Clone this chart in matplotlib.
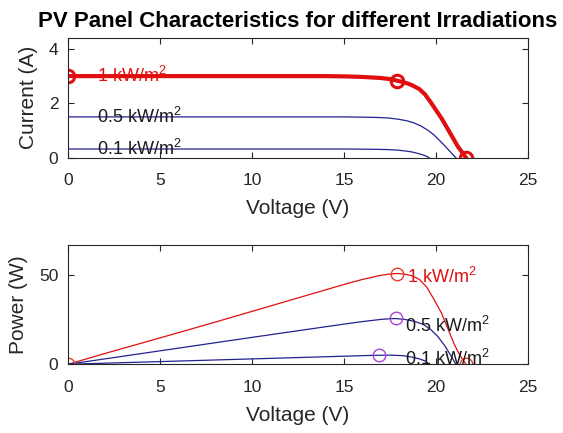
import numpy as np
import matplotlib.pyplot as plt

plt.rcParams['font.family'] = ['Liberation Sans', 'DejaVu Sans']
plt.rcParams['mathtext.fontset'] = 'custom'
plt.rcParams['mathtext.rm'] = 'Liberation Sans'
plt.rcParams['mathtext.it'] = 'Liberation Sans'

# I-V curves
v_1kw = [0, 4, 8, 12, 14, 15, 16, 16.5, 17, 17.5, 17.9, 18.2, 18.5, 18.8, 19.1,
         19.4, 19.7, 20, 20.3, 20.6, 20.9, 21.2, 21.45, 21.63]
i_1kw = [3.0, 3.0, 3.0, 3.0, 3.0, 2.99, 2.97, 2.95, 2.93, 2.89, 2.83, 2.78, 2.72,
         2.63, 2.52, 2.33, 2.05, 1.75, 1.45, 1.1, 0.75, 0.4, 0.17, 0]
v_05kw = [0, 4, 8, 12, 15, 16, 16.8, 17.4, 17.9, 18.4, 18.8, 19.2, 19.6, 19.9,
          20.2, 20.5, 20.8, 21.08]
i_05kw = [1.5, 1.5, 1.5, 1.5, 1.5, 1.49, 1.48, 1.46, 1.42, 1.36, 1.28, 1.16, 0.99,
          0.83, 0.63, 0.42, 0.2, 0]
v_01kw = [0, 4, 8, 12, 15, 16.5, 17.3, 17.9, 18.3, 18.7, 19.0, 19.3, 19.5, 19.63]
i_01kw = [0.32, 0.32, 0.32, 0.32, 0.32, 0.31, 0.3, 0.28, 0.25, 0.21, 0.16, 0.1,
          0.05, 0]

# P-V curves
pv_1kw = [0, 2, 5, 8, 10, 12, 14, 15, 16, 17, 17.5, 17.9, 18.3, 18.7, 19.1, 19.5,
          19.9, 20.3, 20.7, 21.0, 21.3, 21.63]
p_1kw = [0, 6, 14.7, 23.5, 29.5, 35.5, 41.5, 44.5, 47.3, 49.6, 50.3, 50.6, 50.3,
         49.3, 47.3, 43, 36, 28.5, 18.5, 11, 5, 0]
pv_05kw = [0, 5, 10, 15, 16, 17, 17.5, 17.8, 18.3, 18.8, 19.3, 19.7, 20.1, 20.5,
           20.8, 21.08]
p_05kw = [0, 7.5, 15, 22.4, 23.8, 25, 25.4, 25.5, 25.0, 24, 22.3, 19.5, 15.5, 10,
          5, 0]
pv_01kw = [0, 5, 10, 15, 16.5, 17.5, 18.2, 18.7, 19.1, 19.4, 19.63]
p_01kw = [0, 1.5, 3, 4.5, 4.95, 5.1, 4.8, 4.0, 3.0, 1.9, 0]

# marked points
mark_iv_v = [0, 17.9, 21.63]
mark_iv_i = [3.0, 2.83, 0]
mark_p1_v = [0, 17.9, 21.63]
mark_p1_p = [0, 50.6, 0]
mark_p05 = (17.8, 26.0)
mark_p01 = (16.9, 5.0)

labels = ['1 kW/m$^2$', '0.5 kW/m$^2$', '0.1 kW/m$^2$']

red = '#e01010'
navy = '#23238e'
magenta = '#b040d8'
dark = '#262626'

fig = plt.figure(figsize=(5.63, 4.33), dpi=100)
ax1 = fig.add_axes([0.1208, 0.6358, 0.817, 0.2764])
ax2 = fig.add_axes([0.1208, 0.1587, 0.817, 0.2755])

ax1.plot(v_05kw, i_05kw, color=navy, lw=0.9)
ax1.plot(v_01kw, i_01kw, color=navy, lw=0.9)
ax1.plot(v_1kw, i_1kw, color=red, lw=3.0)
ax1.plot(mark_iv_v, mark_iv_i, 'o', color=red, mfc='none', ms=9, mew=2.2)
ax1.text(1.6, 3.0, labels[0], color=red, fontsize=13, va='center')
ax1.text(1.6, 1.5, labels[1], color='#1a1a1a', fontsize=13, va='center')
ax1.text(1.6, 0.32, labels[2], color='#1a1a1a', fontsize=13, va='center')
ax1.set_ylim(0, 4.4)
ax1.set_yticks([0, 2, 4])
ax1.set_ylabel('Current (A)', fontsize=15, color=dark, labelpad=8)
ax1.set_title('PV Panel Characteristics for different Irradiations',
              fontsize=16, fontweight='bold', pad=8)

ax2.plot(pv_1kw, p_1kw, color=red, lw=0.9)
ax2.plot(pv_05kw, p_05kw, color=navy, lw=0.9)
ax2.plot(pv_01kw, p_01kw, color=navy, lw=0.9)
ax2.plot(mark_p1_v, mark_p1_p, 'o', color='#e04030', mfc='none', ms=9, mew=1.0)
ax2.plot(*mark_p05, 'o', color=magenta, mfc='none', ms=9, mew=1.0)
ax2.plot(*mark_p01, 'o', color=magenta, mfc='none', ms=9, mew=1.0)
ax2.text(18.4, 48.5, labels[0], color=red, fontsize=13, va='center')
ax2.text(18.3, 21.5, labels[1], color='#1a1a1a', fontsize=13, va='center')
ax2.text(18.3, 3.0, labels[2], color='#1a1a1a', fontsize=13, va='center')
ax2.set_ylim(0, 66.5)
ax2.set_yticks([0, 50])
ax2.set_ylabel('Power (W)', fontsize=15, color=dark, labelpad=8)

for ax in (ax1, ax2):
    ax.set_xlim(0, 25)
    ax.set_xticks([0, 5, 10, 15, 20, 25])
    ax.set_xlabel('Voltage (V)', fontsize=15, color=dark, labelpad=8)
    ax.tick_params(direction='in', top=True, right=True, length=4,
                   labelsize=12.5, colors=dark, width=0.8)
    ax.tick_params(axis='x', pad=11)
    ax.tick_params(axis='y', pad=7)
    for s in ax.spines.values():
        s.set_color(dark)
        s.set_linewidth(0.8)

fig.savefig('out.png', dpi=100)
